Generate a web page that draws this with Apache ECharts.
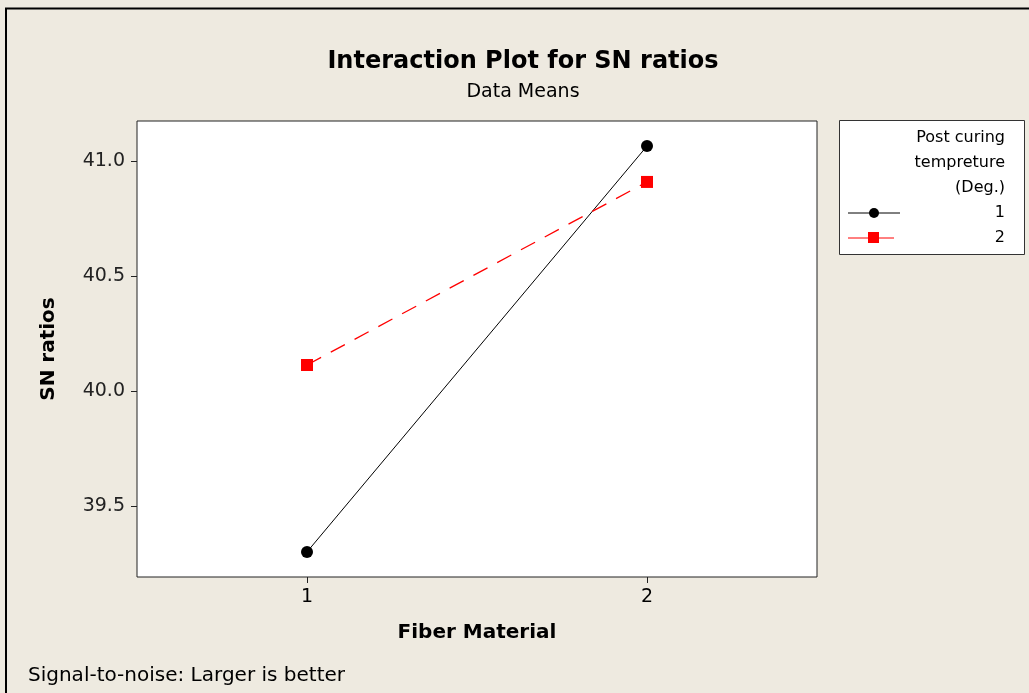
<!DOCTYPE html>
<html>
<head>
<meta charset="utf-8">
<script src="https://cdn.jsdelivr.net/npm/echarts@6/dist/echarts.min.js"></script>
<style>
html,body{margin:0;padding:0;background:#EEEAE0;}
#c{width:1029px;height:693px;}
</style>
</head>
<body>
<div id="c"></div>
<script>
var categories = [1, 2];
var seriesNames = ['1', '2'];
var series1Values = [39.30, 41.065];
var series2Values = [40.113, 40.909];
var yTicks = [39.5, 40.0, 40.5, 41.0];
var xTicks = [1, 2];

var FONT = 'DejaVu Sans';
var chart = echarts.init(document.getElementById('c'));

function pairs(vals){ return categories.map(function(c,i){ return [c, vals[i]]; }); }

var legendX = 839, legendY = 120, legendW = 185, legendH = 134;
var LF = '16px "DejaVu Sans"';

var option = {
  backgroundColor: '#EEEAE0',
  animation: false,
  title: [{
    text: 'Interaction Plot for SN ratios',
    left: 523, top: 50, textAlign: 'center', padding: 0,
    textStyle: {fontFamily: FONT, fontSize: 24, fontWeight: 'bold', color: '#000'}
  },{
    text: 'Data Means',
    left: 523, top: 83, textAlign: 'center', padding: 0,
    textStyle: {fontFamily: FONT, fontSize: 19, fontWeight: 'normal', color: '#000'}
  },{
    text: 'Signal-to-noise: Larger is better',
    left: 28, top: 666, padding: 0,
    textStyle: {fontFamily: FONT, fontSize: 20, fontWeight: 'normal', color: '#000'}
  }],
  grid: {left: 137, top: 121, right: 212, bottom: 116, show: true, backgroundColor: '#fff', borderColor: '#222', borderWidth: 1},
  xAxis: {
    type: 'value', min: 0.5, max: 2.5,
    name: 'Fiber Material', nameLocation: 'middle', nameGap: 46,
    nameTextStyle: {fontFamily: FONT, fontSize: 20, fontWeight: 'bold', color: '#000'},
    axisLine: {show: false},
    splitLine: {show: false},
    axisTick: {show: true, inside: false, length: 6, customValues: xTicks, lineStyle: {color: '#222'}},
    axisLabel: {customValues: xTicks, margin: 11, fontFamily: FONT, fontSize: 19, color: '#000'}
  },
  yAxis: {
    type: 'value', min: 39.191, max: 41.174,
    name: 'SN ratios', nameLocation: 'middle', nameGap: 78, nameRotate: 90,
    nameTextStyle: {fontFamily: FONT, fontSize: 20, fontWeight: 'bold', color: '#000'},
    axisLine: {show: false},
    splitLine: {show: false},
    axisTick: {show: true, inside: false, length: 6, customValues: yTicks, lineStyle: {color: '#222'}},
    axisLabel: {customValues: yTicks, margin: 12, fontFamily: FONT, fontSize: 19, color: '#222',
      formatter: function(v){ return v.toFixed(1); }}
  },
  series: [{
    name: seriesNames[0], type: 'line', data: pairs(series1Values),
    symbol: 'circle', symbolSize: 12,
    lineStyle: {color: '#000', width: 1, type: 'solid'},
    itemStyle: {color: '#000'}
  },{
    name: seriesNames[1], type: 'line', data: pairs(series2Values),
    symbol: 'rect', symbolSize: 12,
    lineStyle: {color: '#ff0000', width: 1.3, type: [16, 11]},
    itemStyle: {color: '#ff0000'}
  }],
  graphic: [
    {type: 'line', shape: {x1: 5, y1: 8.5, x2: 1029, y2: 8.5}, style: {stroke: '#000', lineWidth: 2}},
    {type: 'line', shape: {x1: 6, y1: 8, x2: 6, y2: 693}, style: {stroke: '#000', lineWidth: 2}},
    {type: 'rect', shape: {x: legendX + 0.5, y: legendY + 0.5, width: legendW, height: legendH}, style: {fill: '#fff', stroke: '#333', lineWidth: 1}},
    {type: 'text', style: {text: 'Post curing', x: 1005, y: 138, align: 'right', verticalAlign: 'middle', font: LF, fill: '#000'}},
    {type: 'text', style: {text: 'tempreture', x: 1005, y: 163, align: 'right', verticalAlign: 'middle', font: LF, fill: '#000'}},
    {type: 'text', style: {text: '(Deg.)', x: 1005, y: 188, align: 'right', verticalAlign: 'middle', font: LF, fill: '#000'}},
    {type: 'line', shape: {x1: 848, y1: 213, x2: 900, y2: 213}, style: {stroke: '#000', lineWidth: 1}},
    {type: 'circle', shape: {cx: 874, cy: 213, r: 5}, style: {fill: '#000'}},
    {type: 'text', style: {text: seriesNames[0], x: 1005, y: 213, align: 'right', verticalAlign: 'middle', font: LF, fill: '#000'}},
    {type: 'line', shape: {x1: 848, y1: 238, x2: 894, y2: 238}, style: {stroke: '#ff0000', lineWidth: 1}},
    {type: 'rect', shape: {x: 868, y: 232, width: 11, height: 11}, style: {fill: '#ff0000'}},
    {type: 'text', style: {text: seriesNames[1], x: 1005, y: 238, align: 'right', verticalAlign: 'middle', font: LF, fill: '#000'}}
  ]
};
chart.setOption(option);
</script>
</body>
</html>
